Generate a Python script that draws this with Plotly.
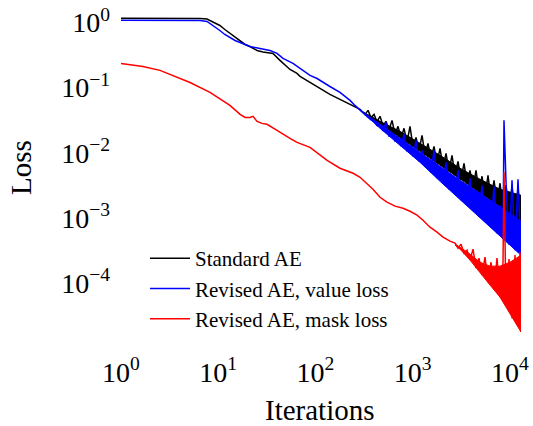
import plotly.graph_objects as go

# ---------------- data ----------------
# Standard AE
black_iters = [1, 1.99, 4.05, 6.5, 7.67, 8.23, 9.27, 10.4, 11.7, 13.2, 14.9, 16.8, 18.9, 21.2, 25.1,
               28.9, 32.5, 36.6, 43.2, 51.0, 54.8, 64.7, 69.5, 88, 111, 141, 179, 227, 288,
               301, 324, 348, 373, 401, 430, 462, 496, 532, 572, 614, 659, 708, 760, 816, 876, 940,
               1009, 1084, 1164, 1250, 1342, 1440, 1546, 1660, 1782, 1914, 2055, 2207, 2368, 2543,
               2729, 2931, 3147, 3379, 3628, 3895, 4182, 4490, 4820, 5176, 5557, 5966, 6406, 6877,
               7384, 7927, 8511, 9138, 9811, 10534, 11310, 12143, 13030]
black_loss = [1.164, 1.164, 1.16, 1.152, 1.13, 1.07, 1.0, 0.90, 0.781, 0.678, 0.589, 0.511, 0.46, 0.428,
              0.372, 0.352, 0.347, 0.335, 0.262, 0.211, 0.190, 0.165, 0.149, 0.120, 0.0972, 0.0786,
              0.0659, 0.0553, 0.0463,
              0.0432, 0.0388, 0.0447, 0.0347, 0.0388, 0.0299, 0.0362, 0.0259, 0.0303, 0.0224, 0.0314,
              0.0193, 0.0254, 0.0167, 0.0237, 0.0144, 0.0254, 0.0125, 0.0172, 0.0108, 0.0185, 0.00929,
              0.0139, 0.00803, 0.0125, 0.00692, 0.0117, 0.00600, 0.00980, 0.00519, 0.00912, 0.00447,
              0.00738, 0.00386, 0.00687, 0.00333, 0.00537, 0.00288, 0.00537, 0.00249, 0.00435, 0.00215,
              0.00450, 0.00186, 0.00377, 0.00162, 0.00340, 0.00139, 0.00316, 0.00120, 0.00305, 0.00104,
              0.00284, 0.000896]
black_band_iters = [301, 462, 741, 1191, 1914, 3075, 4936, 7927, 13030]
black_band_hi = [0.0432, 0.0303, 0.0213, 0.0139, 0.00912, 0.00577, 0.00391, 0.00275, 0.00222]
black_band_lo = [0.0432, 0.0279, 0.0171, 0.0105, 0.00641, 0.00396, 0.00244, 0.00150, 0.000896]

# Revised AE, value loss
blue_iters = [1, 1.99, 4.05, 6.5, 7.67, 8.23, 9.27, 10.4, 11.7, 13.2, 14.9, 16.8, 18.9, 21.2, 26.9,
              34.1, 40.3, 46.4, 58.8, 74.5, 88, 104, 120, 141, 179, 227, 255, 288,
              301, 324, 348, 373, 401, 430, 462, 496, 532, 572, 614, 659, 708, 760, 816, 876, 940,
              1009, 1084, 1164, 1250, 1342, 1440, 1546, 1660, 1782, 1914, 2055, 2207, 2368, 2543,
              2729, 2931, 3147, 3379, 3628, 3895, 4182, 4490, 4820, 5176, 5557, 5966, 6406, 6877,
              7384, 7927, 8511, 8710, 9138, 9811, 10534, 11310, 12143, 13030]
blue_loss = [1.084, 1.084, 1.081, 1.073, 1.036, 0.965, 0.868, 0.754, 0.655, 0.589, 0.530, 0.494, 0.460,
             0.428, 0.399, 0.372, 0.335, 0.281, 0.235, 0.184, 0.154, 0.138, 0.120, 0.104, 0.0844,
             0.0637, 0.0533, 0.0447,
             0.0432, 0.0391, 0.0349, 0.0320, 0.0303, 0.0261, 0.0254, 0.0216, 0.0293, 0.0180, 0.0192,
             0.0151, 0.0166, 0.0126, 0.0192, 0.0105, 0.0121, 0.00877, 0.0155, 0.00733, 0.0109, 0.00606,
             0.00820, 0.00495, 0.0109, 0.00405, 0.00597, 0.00331, 0.00712, 0.00274, 0.00450, 0.00226,
             0.00537, 0.00187, 0.00340, 0.00154, 0.00405, 0.00128, 0.00265, 0.00105, 0.00316, 0.000863,
             0.00193, 0.000705, 0.00305, 0.000577, 0.00156, 0.000471, 0.0314, 0.00352, 0.000385,
             0.00377, 0.000318, 0.00391, 0.000267]
blue_band_iters = [301, 462, 741, 1191, 1914, 3075, 4936, 7927, 13030]
blue_band_hi = [0.0432, 0.0273, 0.0166, 0.0101, 0.00618, 0.00377, 0.00238, 0.00146, 0.000887]
blue_band_lo = [0.0432, 0.0237, 0.0130, 0.00712, 0.00364, 0.00193, 0.00102, 0.000522, 0.000267]

# Revised AE, mask loss
red_iters = [1, 1.68, 2.52, 3.77, 5.13, 8.23, 13.2, 16.8, 18.9, 21.2, 22.8, 25.1, 28.2, 31.8, 36.6,
             40.3, 54.8, 64.7, 88, 132, 179, 244, 288, 340, 391, 462, 545, 659, 797, 940, 1110, 1279,
             1510, 1782, 2055, 2426,
             2729, 2931, 3147, 3379, 3628, 3895, 4182, 4490, 4820, 5176, 5557, 5966, 6406, 6877,
             7384, 7927, 8511, 8710, 9138, 9811, 10534, 11310, 12143, 12735, 13030]
red_loss = [0.235, 0.211, 0.184, 0.143, 0.120, 0.0844, 0.0533, 0.0388, 0.0349, 0.0349, 0.0362, 0.0303,
            0.0282, 0.0273, 0.0245, 0.0221, 0.0166, 0.0144, 0.0121, 0.00764, 0.00577, 0.00483, 0.00420,
            0.00340, 0.00275, 0.00207, 0.00174, 0.00151, 0.00140, 0.00126, 0.00110, 0.000919,
            0.000718, 0.000601, 0.000504, 0.000438,
            0.000408, 0.000342, 0.000394, 0.000286, 0.000318, 0.000224, 0.000330, 0.000169, 0.000240,
            0.000132, 0.000249, 0.000103, 0.000208, 8.03e-5, 0.000240, 6.05e-5, 0.000208, 0.00500,
            4.73e-5, 0.000232, 2.88e-5, 0.000267, 2.17e-5, 0.000297, 1.76e-5]
red_band_iters = [2729, 3075, 3895, 4936, 6256, 7927, 10045, 13030]
red_band_hi = [0.000394, 0.000354, 0.000277, 0.000208, 0.000181, 0.000181, 0.000208, 0.000267]
red_band_lo = [0.000380, 0.000330, 0.000224, 0.000146, 9.25e-5, 6.05e-5, 3.44e-5, 1.76e-5]

series_names = ["Standard AE", "Revised AE, value loss", "Revised AE, mask loss"]
series_colors = ["#000000", "#0000ff", "#ff0000"]

x_tickvals = [1, 10, 100, 1000, 10000]
x_ticktext = ["10<sup>0</sup>", "10<sup>1</sup>", "10<sup>2</sup>", "10<sup>3</sup>", "10<sup>4</sup>"]
y_tickvals = [1, 0.1, 0.01, 0.001, 0.0001]
y_ticktext = ["10<sup>0</sup>", "10<sup>\u22121</sup>", "10<sup>\u22122</sup>",
              "10<sup>\u22123</sup>", "10<sup>\u22124</sup>"]

FONT = "Liberation Serif"

fig = go.Figure()

series = [
    (black_iters, black_loss, black_band_iters, black_band_hi, black_band_lo),
    (blue_iters, blue_loss, blue_band_iters, blue_band_hi, blue_band_lo),
    (red_iters, red_loss, red_band_iters, red_band_hi, red_band_lo),
]

for (xs, ys, bx, bhi, blo), name, color in zip(series, series_names, series_colors):
    fig.add_trace(go.Scatter(
        x=list(bx) + list(bx)[::-1], y=list(bhi) + list(blo)[::-1],
        mode="lines", fill="toself", fillcolor=color,
        line=dict(color=color, width=1), showlegend=False, hoverinfo="skip"))
    fig.add_trace(go.Scatter(
        x=xs, y=ys, mode="lines", name=name,
        line=dict(color=color, width=1.5)))

fig.update_layout(
    width=533, height=426,
    margin=dict(l=121, r=12, t=16, b=91, autoexpand=False),
    paper_bgcolor="white", plot_bgcolor="white",
    font=dict(family=FONT, color="black", size=28),
    showlegend=True,
    legend=dict(x=(145 - 121) / 400, y=(335 - 238) / 319, xanchor="left", yanchor="top",
                bgcolor="rgba(0,0,0,0)", font=dict(size=21, family=FONT),
                itemwidth=40, tracegroupgap=0),
    xaxis=dict(type="log", range=[0, 4.115], showgrid=False, zeroline=False, automargin=False,
               showline=False, ticks="", tickvals=x_tickvals, ticktext=x_ticktext,
               tickfont=dict(size=28, family=FONT), ticklabelstandoff=18),
    yaxis=dict(type="log", range=[-4.8, 0.1], showgrid=False, zeroline=False, automargin=False,
               showline=False, ticks="", tickvals=y_tickvals, ticktext=y_ticktext,
               tickfont=dict(size=28, family=FONT), ticklabelstandoff=10),
    annotations=[
        dict(text="Iterations", xref="paper", yref="paper", x=(320 - 121) / 400,
             y=(335 - 410) / 319, xanchor="center", yanchor="middle", showarrow=False,
             font=dict(size=29, family=FONT)),
        dict(text="Loss", xref="paper", yref="paper", x=(21 - 121) / 400,
             y=(335 - 168) / 319, xanchor="center", yanchor="middle", showarrow=False,
             textangle=-90, font=dict(size=29, family=FONT)),
    ],
)

fig.write_html("out.html")
